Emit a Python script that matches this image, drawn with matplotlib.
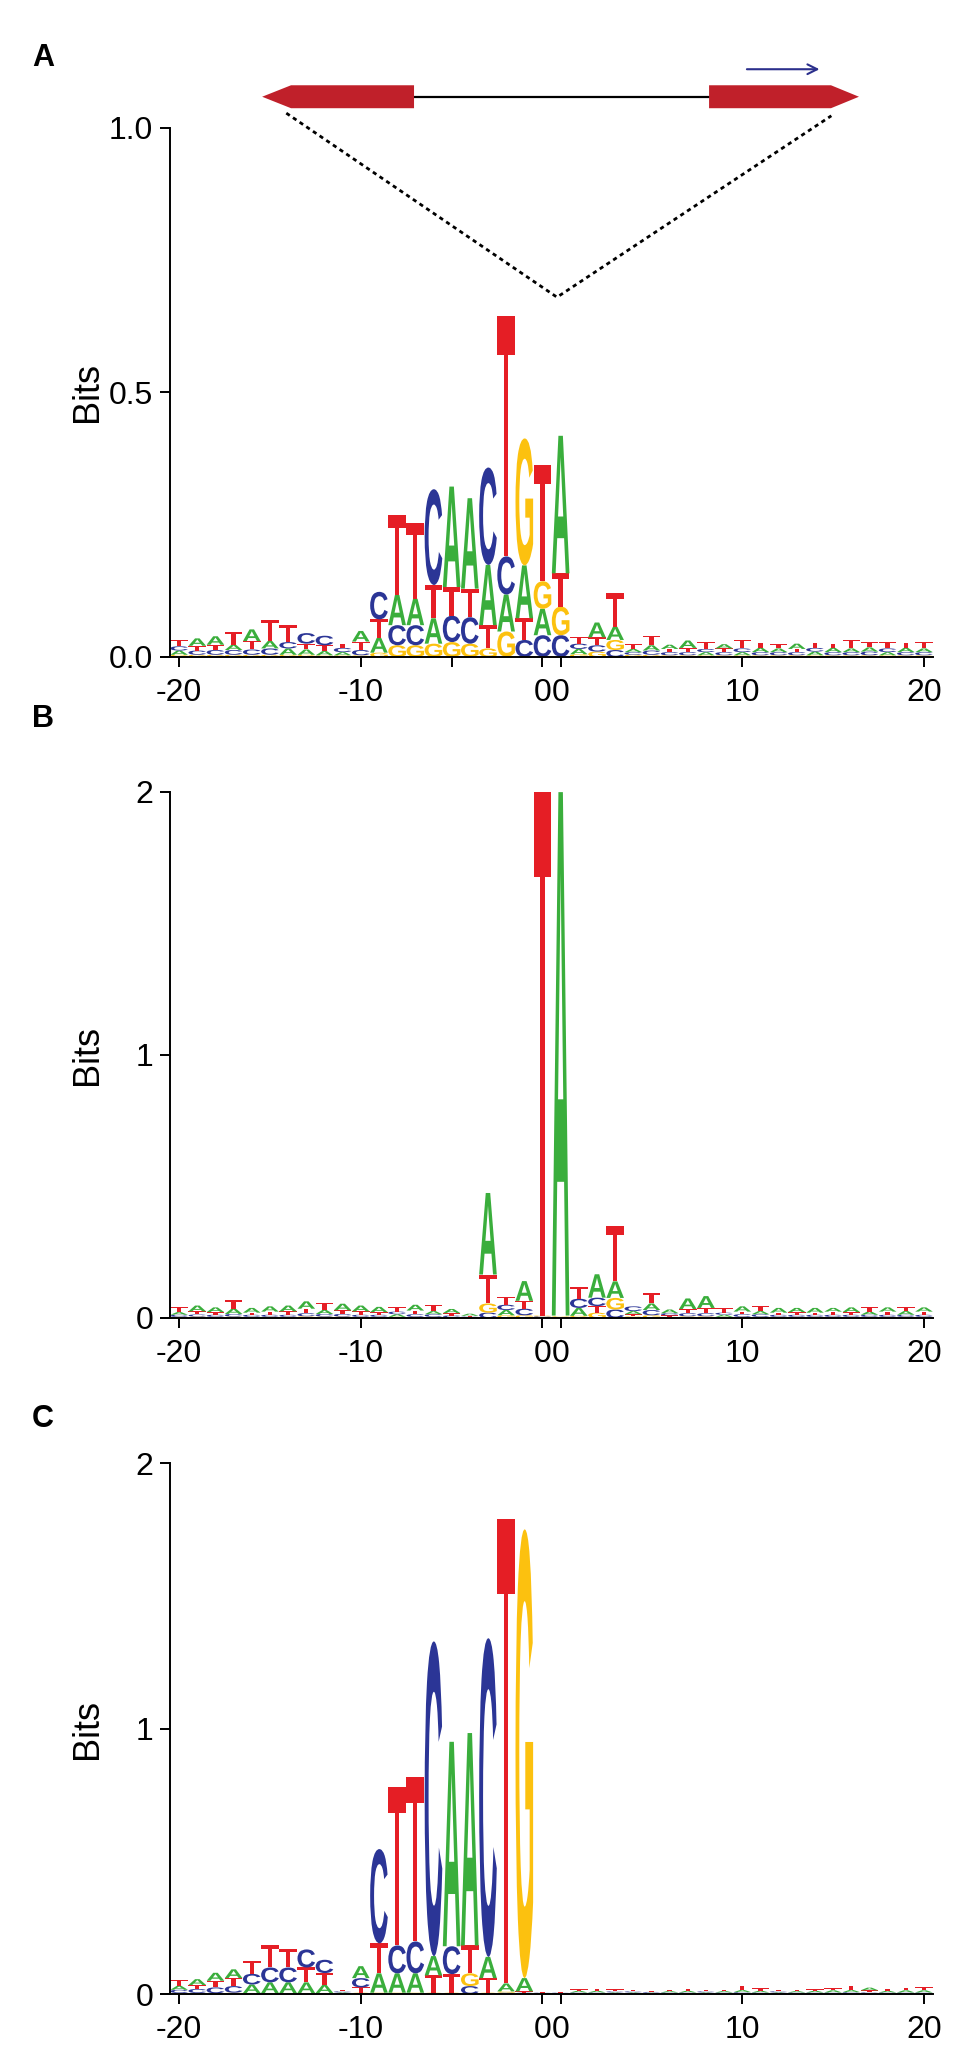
import numpy as np
import matplotlib
matplotlib.use("Agg")
import matplotlib.pyplot as plt
from matplotlib.textpath import TextPath
from matplotlib.patches import PathPatch, Polygon
from matplotlib.font_manager import FontProperties
from matplotlib.transforms import Affine2D

plt.rcParams['font.family'] = ['Liberation Sans', 'DejaVu Sans']

# columns: -20..-1, 0, 0, 1..20  (42 positions)
tick_pos = [0, 10, 20, 21, 31, 41]
tick_lab = ['-20', '-10', '0', '0', '10', '20']

# panel A letter heights (bits)
a_A = [.008, .014, .016, .010, .022, .014, .012, .010, .008, .006, .020, .028, .057, .050, .048, .190, .171, .114, .070, .100, .050,
       .260, .010, .028, .025, .006, .010, .008, .014, .006, .008, .006, .008, .007, .010, .007, .008, .007, .008, .006, .008, .007]
a_C = [.008, .008, .009, .009, .010, .012, .012, .020, .018, .008, .010, .052, .038, .038, .181, .050, .050, .184, .072, .032, .041,
       .041, .010, .012, .013, .005, .008, .006, .006, .006, .006, .007, .006, .006, .006, .007, .006, .006, .007, .007, .006, .006]
a_G = [.004, .004, .004, .004, .004, .004, .004, .004, .003, .003, .003, .008, .022, .022, .025, .028, .025, .016, .048, .240, .052,
       .054, .005, .010, .019, .004, .004, .003, .003, .003, .003, .003, .003, .003, .003, .003, .003, .003, .003, .003, .003, .003]
a_T = [.012, .009, .010, .024, .016, .040, .032, .011, .011, .008, .016, .035, .152, .143, .063, .054, .054, .044, .454, .041, .219,
       .063, .012, .015, .063, .010, .018, .006, .008, .014, .007, .016, .010, .008, .006, .010, .008, .016, .010, .012, .010, .012]

# panel B
b_A = [.010, .022, .018, .020, .018, .020, .022, .028, .015, .025, .022, .020, .010, .022, .012, .016, .008, .310, .020, .075, .003,
       1.99, .030, .089, .063, .012, .025, .014, .040, .045, .008, .020, .012, .018, .016, .018, .014, .018, .012, .016, .014, .016]
b_C = [.008, .008, .008, .010, .008, .008, .008, .012, .010, .010, .008, .008, .010, .010, .010, .006, .003, .020, .020, .025, .003,
       .003, .035, .032, .032, .018, .020, .008, .012, .012, .008, .010, .010, .008, .008, .008, .008, .008, .008, .008, .008, .008]
b_G = [.004, .005, .004, .005, .004, .004, .004, .006, .005, .005, .004, .004, .004, .004, .004, .003, .002, .035, .010, .010, .003,
       .003, .008, .020, .044, .006, .010, .004, .006, .006, .004, .004, .004, .004, .004, .004, .004, .004, .004, .004, .004, .004]
b_T = [.020, .012, .010, .032, .008, .012, .013, .017, .027, .014, .013, .010, .018, .014, .024, .009, .003, .110, .030, .030, 1.99,
       .003, .045, .025, .210, .008, .040, .006, .016, .020, .018, .010, .020, .008, .010, .008, .012, .010, .016, .012, .014, .012]

# panel C
c_A = [.015, .022, .030, .033, .032, .040, .040, .040, .030, .004, .045, .073, .073, .073, .073, .770, .800, .080, .030, .050, .002,
       .002, .006, .006, .004, .004, .003, .005, .006, .004, .005, .008, .006, .004, .005, .006, .008, .008, .010, .006, .008, .008]
c_C = [.012, .015, .022, .025, .040, .056, .056, .068, .050, .004, .035, .355, .105, .120, 1.185, .105, .030, 1.200, .005, .005, .002,
       .002, .004, .004, .004, .004, .003, .004, .004, .004, .004, .005, .004, .004, .004, .004, .004, .005, .004, .004, .004, .004]
c_G = [.004, .004, .003, .005, .004, .004, .004, .004, .004, .002, .005, .005, .005, .005, .005, .005, .048, .005, .005, 1.690, .001,
       .001, .002, .002, .002, .002, .002, .002, .002, .002, .002, .002, .002, .002, .002, .002, .002, .002, .002, .002, .002, .002]
c_T = [.022, .015, .025, .030, .050, .085, .070, .056, .045, .006, .020, .113, .597, .620, .065, .070, .105, .055, 1.750, .005, .002,
       .002, .006, .008, .008, .005, .004, .006, .008, .006, .006, .016, .010, .006, .006, .006, .008, .016, .008, .008, .010, .012]

colors = {'A': '#3aae3c', 'C': '#2b3596', 'G': '#fcc10f', 'T': '#e51e25'}

fp = FontProperties(family='Liberation Sans', weight='bold')
glyphs = {ch: TextPath((0, 0), ch, size=1, prop=fp) for ch in 'ACGT'}


def letter(ax, ch, x, y, w, h):
    p = glyphs[ch]
    ext = p.get_extents()
    t = Affine2D().translate(-ext.x0, -ext.y0).scale(w / ext.width, h / ext.height).translate(x - w / 2, y)
    ax.add_patch(PathPatch(t.transform_path(p), fc=colors[ch], ec='none', lw=0))


def logo(ax, cols, ymax, yticks, ylabs, minor=None):
    n = len(cols['A'])
    for i in range(n):
        stack = sorted([(cols[ch][i], ch) for ch in 'ACGT'])
        y = 0
        for h, ch in stack:
            if h > 0:
                letter(ax, ch, i, y, 0.97, h)
            y += h
    ax.set_xlim(-0.5, n - 0.5)
    ax.set_ylim(0, ymax)
    ax.spines['top'].set_visible(False)
    ax.spines['right'].set_visible(False)
    for s in ['left', 'bottom']:
        ax.spines[s].set_linewidth(1.4)
    ax.spines['bottom'].set_bounds(-1.0, n - 0.5)
    ax.set_xticks(tick_pos)
    ax.set_xticklabels(tick_lab)
    if minor is not None:
        ax.set_xticks(minor, minor=True)
        ax.tick_params(axis='x', which='minor', length=7, width=1.4)
    ax.set_yticks(yticks)
    ax.set_yticklabels(ylabs)
    ax.tick_params(axis='x', length=7, width=1.4, pad=8, labelsize=23)
    ax.tick_params(axis='y', length=7, width=1.4, pad=5, labelsize=23)
    ax.set_ylabel('Bits', fontsize=26)
    ax.yaxis.set_label_coords(-0.085, 0.5)


fig = plt.figure(figsize=(9.75, 20.67), dpi=100)

axA = fig.add_axes([0.1744, 0.6822, 0.7826, 0.2559])
axB = fig.add_axes([0.1744, 0.3624, 0.7826, 0.2545])
axC = fig.add_axes([0.1744, 0.0353, 0.7826, 0.2569])

logo(axA, {'A': a_A, 'C': a_C, 'G': a_G, 'T': a_T}, 1.0, [0, 0.5, 1.0], ['0.0', '0.5', '1.0'], minor=[15])
logo(axB, {'A': b_A, 'C': b_C, 'G': b_G, 'T': b_T}, 2.0, [0, 1, 2], ['0', '1', '2'])
logo(axC, {'A': c_A, 'C': c_C, 'G': c_G, 'T': c_T}, 2.0, [0, 1, 2], ['0', '1', '2'])

# gene schematic above panel A (data coords of panel A)
gy, gh = 1.059, 0.0217
exon_red = '#c0202a'
left_exon = [(4.57, gy), (6.16, gy + gh), (12.93, gy + gh), (12.93, gy - gh), (6.16, gy - gh)]
right_exon = [(29.17, gy - gh), (29.17, gy + gh), (35.88, gy + gh), (37.42, gy), (35.88, gy - gh)]
axA.plot([12.93, 29.17], [gy, gy], color='black', lw=1.6, clip_on=False, zorder=2)
axA.add_patch(Polygon(left_exon, closed=True, fc=exon_red, ec='none', clip_on=False, zorder=3))
axA.add_patch(Polygon(right_exon, closed=True, fc=exon_red, ec='none', clip_on=False, zorder=3))
axA.annotate('', xy=(35.4, 1.111), xytext=(31.1, 1.111), annotation_clip=False,
             arrowprops=dict(arrowstyle='->,head_length=0.7,head_width=0.35', color='#2b2f8c', lw=1.5))
axA.plot([5.9, 20.8, 35.9], [1.028, 0.68, 1.023], color='black', lw=2, ls=(0, (1.5, 1.4)),
         clip_on=False, zorder=2)

for lab, yy in [('A', 58), ('B', 719), ('C', 1419)]:
    fig.text(43 / 975, 1 - yy / 2067, lab, fontsize=22, fontweight='bold', ha='center', va='center')

fig.savefig('out.png', dpi=100)
